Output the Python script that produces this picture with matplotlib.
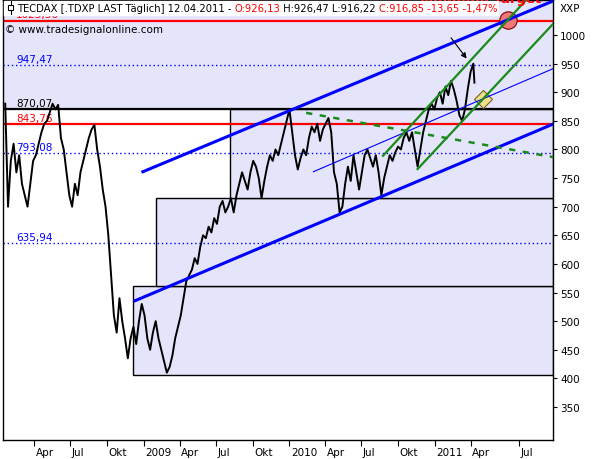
import numpy as np
import pandas as pd
import matplotlib
matplotlib.use("Agg")
import matplotlib.pyplot as plt
import matplotlib.transforms as mtransforms
from matplotlib.offsetbox import AnchoredOffsetbox, HPacker, TextArea, DrawingArea
from matplotlib.patches import Rectangle
from matplotlib.lines import Line2D

plt.rcParams['font.family'] = ['DejaVu Sans']

# weekly closes (fridays) from 18.01.2008
week_start = "2008-01-18"
closes = [880, 700, 780, 810, 760, 790, 740, 720, 700, 740,
          780, 790, 810, 830, 845, 850, 865, 880, 870, 878,
          820, 800, 760, 720, 700, 740, 720, 760, 780, 800,
          820, 835, 843, 800, 770, 730, 700, 650, 580, 510,
          480, 540, 500, 470, 435, 470, 490, 460, 500, 530,
          510, 470, 450, 480, 500, 470, 450, 430, 410, 420,
          440, 470, 490, 510, 540, 570, 580, 590, 610, 600,
          630, 650, 645, 665, 655, 680, 670, 700, 710, 690,
          700, 715, 690, 720, 740, 760, 745, 730, 760, 780,
          770, 750, 715, 745, 770, 790, 780, 800, 790, 810,
          830, 850, 870, 830, 790, 765, 785, 800, 790, 820,
          840, 830, 845, 815, 835, 845, 855, 830, 760, 740,
          690, 700, 740, 770, 745, 790, 760, 730, 760, 790,
          800, 785, 770, 790, 760, 720, 750, 770, 790, 780,
          795, 805, 800, 820, 830, 815, 830, 800, 770, 800,
          830, 850, 870, 880, 870, 890, 900, 880, 910, 895,
          920, 905, 885, 860, 850, 870, 905, 935, 950]
last_date = "2011-04-12"
o_val, h_val, l_val, c_val = 926.13, 926.47, 916.22, 916.85
chg, chg_pct = -13.65, -1.47

# horizontal levels
levels = [1025.36, 947.47, 870.07, 843.76, 793.08, 635.94]
level_colors = ["red", "blue", "black", "red", "blue", "blue"]
level_styles = ["-", ":", "-", "-", ":", ":"]

# box steps from the march 2009 low
box_levels = [405.9, 560.6, 715.3, 870.07]
box_starts = ["2008-12-04", "2009-01-30", "2009-08-06"]

# trend lines: two anchors (date, price) each
upper_dates, upper_prices = ["2008-12-30", "2010-01-04"], [761.1, 868.1]
lower_dates, lower_prices = ["2008-12-10", "2010-05-14"], [535.7, 688.8]
mid_dates, mid_prices = ["2010-03-03", "2011-03-04"], [761.1, 870.8]
green1_dates, green1_prices = ["2010-08-25", "2011-03-04"], [789.1, 934.3]
green2_dates, green2_prices = ["2010-11-19", "2011-04-12"], [765.8, 872.2]
dash_dates, dash_prices = ["2010-02-12", "2011-03-04"], [864.0, 816.0]

arrow_from, arrow_to = ("2011-02-08", 999.0), ("2011-03-28", 955.0)

tick_dates = ["2008-04-01", "2008-07-01", "2008-10-01", "2009-01-01",
              "2009-04-01", "2009-07-01", "2009-10-01", "2010-01-01",
              "2010-04-01", "2010-07-01", "2010-10-01", "2011-01-01",
              "2011-04-01", "2011-07-01"]
tick_labels = ["Apr", "Jul", "Okt", "2009", "Apr", "Jul", "Okt", "2010",
               "Apr", "Jul", "Okt", "2011", "Apr", "Jul"]
x_range = ("2008-01-14", "2011-08-31")

origin = np.datetime64("2009-01-01")
last = np.datetime64(last_date)


def to_x(d):
    # trading days up to the last bar, calendar days after it
    d = np.datetime64(d, "D")
    if d <= last:
        return float(np.busday_count(origin, d))
    return float(np.busday_count(origin, last) + (d - last).astype(int))


def de(v):
    return ("%.2f" % v).replace(".", ",")


xmin, xmax = to_x(x_range[0]), to_x(x_range[1])


def line_of(dates, prices):
    x0, x1 = to_x(dates[0]), to_x(dates[1])
    s = (prices[1] - prices[0]) / (x1 - x0)
    return x0, prices[0], s


def draw_line(dates, prices, **kw):
    x0, p0, s = line_of(dates, prices)
    xs = np.array([x0, xmax])
    ax.plot(xs, p0 + s * (xs - x0), **kw)


def cross(a, b):
    xa, pa, sa = line_of(*a)
    xb, pb, sb = line_of(*b)
    x = (pb - pa + sa * xa - sb * xb) / (sa - sb)
    return x, pa + sa * (x - xa)


fig = plt.figure(figsize=(5.95, 4.6), dpi=100)
ax = fig.add_axes([3 / 595, 19 / 460, 550 / 595, 440 / 460])
ax.set_xlim(xmin, xmax)
ax.set_ylim(292.3, 1061.2)

lav = "#E4E4FA"
ax.axhspan(box_levels[-1], 1100, color=lav, zorder=0)
for i, st in enumerate(box_starts):
    ax.add_patch(Rectangle((to_x(st), box_levels[i]), xmax - to_x(st),
                           box_levels[i + 1] - box_levels[i],
                           facecolor=lav, edgecolor="black", lw=1, zorder=1))

for v, c, ls in zip(levels, level_colors, level_styles):
    lw = 1.0 if ls == ":" else 1.6
    dash = (0, (1, 2)) if ls == ":" else "-"
    ax.axhline(v, color=c, lw=lw, ls=dash, zorder=2)
    ax.annotate(de(v), xy=(13 / 550, v), xycoords=ax.get_yaxis_transform(),
                xytext=(0, 1), textcoords="offset points", color=c,
                fontsize=7.5, va="bottom", ha="left", zorder=3)

dates = list(pd.date_range(week_start, periods=len(closes), freq="7D")) + [pd.Timestamp(last_date)]
xs = [to_x(d.to_datetime64()) for d in dates]
ax.plot(xs, closes + [c_val], color="black", lw=1.4, zorder=3)

# markers at crossings
cx, cy = cross((upper_dates, upper_prices), (green1_dates, green1_prices))
ax.plot(cx, cy, "o", ms=12.5, mfc="#F07878", mec="#7A0000", mew=0.8, zorder=4)
dx, dy = cross((mid_dates, mid_prices), (green2_dates, green2_prices))
ax.plot(dx, dy, "D", ms=9.5, mfc="#F0E08C", mec="#7A6020", mew=0.8, zorder=4)

green = "#1A8A1A"
draw_line(upper_dates, upper_prices, color="blue", lw=2.2, zorder=5)
draw_line(lower_dates, lower_prices, color="blue", lw=2.2, zorder=5)
draw_line(mid_dates, mid_prices, color="blue", lw=0.8, zorder=5)
draw_line(green1_dates, green1_prices, color=green, lw=1.6, zorder=5)
draw_line(green2_dates, green2_prices, color=green, lw=1.6, zorder=5)
draw_line(dash_dates, dash_prices, color=green, lw=1.8, ls=(0, (2.5, 3)), zorder=5)

ax.annotate("", xy=(to_x(arrow_to[0]), arrow_to[1]),
            xytext=(to_x(arrow_from[0]), arrow_from[1]),
            arrowprops=dict(arrowstyle="-|>", color="black", lw=0.8,
                            mutation_scale=8), zorder=6)

# target note, mostly above the frame as in the original
ax.annotate("Minimum Target", xy=(cx, 1.0), xycoords=("data", "axes fraction"),
            xytext=(24, 1), textcoords="offset points", color="red",
            fontsize=9.5, fontweight="bold", ha="right", va="center",
            annotation_clip=False, zorder=6)

ax.text(2 / 550, 0.933, "\u00a9 www.tradesignalonline.com", transform=ax.transAxes,
        fontsize=7.5, va="center", ha="left", zorder=6)

# title box
icon = DrawingArea(9, 9, 0, 0)
icon.add_artist(Line2D([4.5, 4.5], [0, 9], color="black", lw=0.8))
icon.add_artist(Rectangle((2.5, 2.5), 4, 4, facecolor="white", edgecolor="black", lw=0.8))
fs = 7.2
parts = [icon,
         TextArea("TECDAX [.TDXP LAST T\u00e4glich] 12.04.2011 - ", textprops=dict(color="black", fontsize=fs)),
         TextArea("O:" + de(o_val), textprops=dict(color="red", fontsize=fs)),
         TextArea(" H:%s L:%s " % (de(h_val), de(l_val)), textprops=dict(color="black", fontsize=fs)),
         TextArea("C:%s %s %s%%" % (de(c_val), de(chg), de(chg_pct)), textprops=dict(color="red", fontsize=fs))]
pack = HPacker(children=parts, align="center", pad=0, sep=0)
box = AnchoredOffsetbox(loc="upper left", child=pack, pad=0.05, borderpad=0.05,
                        frameon=True, bbox_to_anchor=(0, 1), bbox_transform=ax.transAxes)
box.patch.set_facecolor("white")
box.patch.set_edgecolor("white")
box.set_zorder(10)
ax.add_artist(box)

fig.text(560 / 595, 1 - 9 / 460, "XXP", fontsize=7.5, va="center", ha="left")

ax.yaxis.tick_right()
ax.set_yticks(range(350, 1001, 50))
ax.tick_params(axis="y", labelsize=7.5, length=3, pad=2, direction="out")
ax.set_xticks([to_x(d) for d in tick_dates])
ax.set_xticklabels(tick_labels)
ax.tick_params(axis="x", labelsize=7.5, length=4, pad=1, direction="out")
shift = mtransforms.ScaledTranslation(1 / 72, 0, fig.dpi_scale_trans)
for lab in ax.get_xticklabels():
    lab.set_ha("left")
    lab.set_transform(lab.get_transform() + shift)
for sp in ax.spines.values():
    sp.set_color("black")
    sp.set_linewidth(1)

fig.savefig("out.png", dpi=100)
